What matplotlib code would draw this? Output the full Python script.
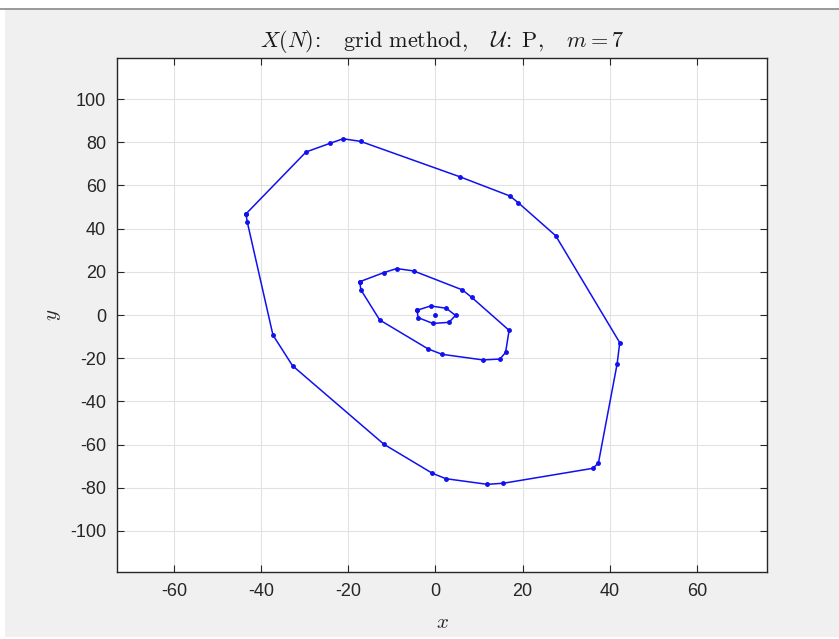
import matplotlib
matplotlib.use("Agg")
import matplotlib.pyplot as plt
from matplotlib.patches import Rectangle

# ------------------------------------------------------
# Reachable-set polygons (x, y)
outer_x = [-43.5, -29.7, -24.2, -21.2, -17.2, 5.6, 17.1, 19.0, 27.6, 42.3, 41.7,
           37.4, 36.1, 15.6, 11.9, 2.4, -0.7, -11.8, -32.8, -37.3, -43.2, -43.5]
outer_y = [46.8, 75.5, 79.5, 81.6, 80.4, 64.0, 55.1, 52.0, 36.7, -12.8, -22.6,
           -68.6, -71.0, -77.9, -78.4, -75.8, -73.3, -59.9, -23.5, -9.3, 43.1, 46.8]

middle_x = [-17.4, -11.9, -8.9, -5.0, 6.2, 8.3, 16.9, 16.1, 14.8, 10.9, 1.5,
            -1.7, -12.8, -17.1, -17.4]
middle_y = [15.4, 19.6, 21.5, 20.4, 11.6, 8.2, -7.1, -17.3, -20.4, -20.8, -18.2,
            -15.7, -2.3, 11.6, 15.4]

inner_x = [-4.2, -1.1, 2.5, 4.6, 3.1, -0.6, -4.0, -4.2]
inner_y = [2.2, 4.2, 3.1, -0.2, -3.4, -3.9, -1.2, 2.2]

center_x = [0.0]
center_y = [0.0]

x_ticks = [-60, -40, -20, 0, 20, 40, 60]
y_ticks = [-100, -80, -60, -40, -20, 0, 20, 40, 60, 80, 100]
# ------------------------------------------------------

plt.rcParams['font.family'] = ['Liberation Sans', 'DejaVu Sans']
plt.rcParams['mathtext.fontset'] = 'cm'
plt.rcParams['axes.unicode_minus'] = False

fig = plt.figure(figsize=(8.39, 6.39), dpi=100, facecolor='#f0f0f0')

# screenshot frame: white strips at the edges and a thin dark line on top
fig.patches.append(Rectangle((0, 1 - 8 / 639), 1, 8 / 639, transform=fig.transFigure,
                             facecolor='white', edgecolor='none', zorder=-1))
fig.patches.append(Rectangle((0, 0), 5 / 839, 1, transform=fig.transFigure,
                             facecolor='white', edgecolor='none', zorder=-1))
fig.patches.append(Rectangle((0, 0), 1, 2 / 639, transform=fig.transFigure,
                             facecolor='white', edgecolor='none', zorder=-1))
fig.lines.append(plt.Line2D([0, 1], [1 - 8.5 / 639] * 2, transform=fig.transFigure,
                            color='#8a8a8a', lw=1.2))

ax = fig.add_axes([117 / 839, 1 - 572 / 639, 650 / 839, 514 / 639])
ax.set_facecolor('white')

style = dict(color='#1010f0', lw=1.1, marker='.', markersize=5)
ax.plot(outer_x, outer_y, **style)
ax.plot(middle_x, middle_y, **style)
ax.plot(inner_x, inner_y, **style)
ax.plot(center_x, center_y, ls='none', marker='.', markersize=5, color='#1010f0')

ax.set_xlim(-73.1, 76.1)
ax.set_ylim(-119, 119)
ax.set_xticks(x_ticks)
ax.set_yticks(y_ticks)
ax.grid(True, color='#e2e2e2', lw=0.8)
ax.set_axisbelow(True)
ax.tick_params(direction='in', length=5, width=0.8, top=True, right=True,
               labelsize=13, colors='#262626', pad=8)
for s in ax.spines.values():
    s.set_color('#262626')
    s.set_linewidth(1.0)

ax.set_xlabel(r'$x$', fontsize=15, color='#262626', labelpad=9)
ax.set_ylabel(r'$y$', fontsize=15, color='#262626', labelpad=5)
ax.set_title(r'$X(N)\!:\quad \mathrm{grid\ method},\quad \mathcal{U}\!:\ \mathrm{P},\quad m=7$',
             fontsize=16, color='#1a1a1a', pad=8)

fig.savefig('out.png', dpi=100, facecolor=fig.get_facecolor())
